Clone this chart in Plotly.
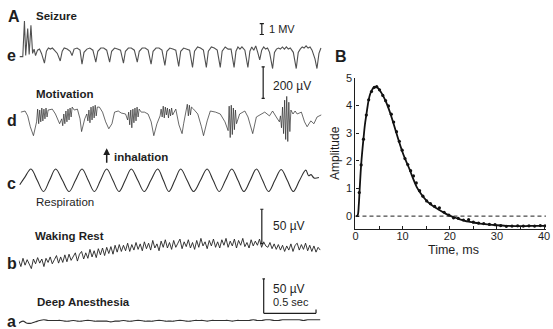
import plotly.graph_objects as go

W, H = 553, 329
FONT = "Liberation Sans, Arial, Helvetica, sans-serif"
INK = "#1e1e1e"

# ---------------- DATA ----------------
# Panel A — EEG traces (time in seconds)
# e: Seizure, (time s, mV)
seizure_e = [
    (0.009, -0.6), (0.038, -0.6), (0.054, 2.7), (0.066, -0.5), (0.085, 2.0), (0.099, -0.4),
    (0.116, 2.3), (0.132, -0.3), (0.146, 0.1), (0.160, -0.5), (0.179, 0.0), (0.198, 0.1),
    (0.217, -0.3), (0.245, -1.2), (0.264, -0.1), (0.283, 0.2), (0.302, 0.1), (0.321, 0.2),
    (0.340, 0.0), (0.368, -0.3), (0.396, -1.0), (0.415, -0.1), (0.434, 0.2), (0.462, 0.1),
    (0.491, -0.1), (0.509, -0.5), (0.528, 0.1), (0.557, 0.2), (0.585, 0.0), (0.604, -1.3),
    (0.623, -0.2), (0.651, 0.1), (0.679, 0.2), (0.708, 0.0), (0.736, -1.1), (0.755, -0.1),
    (0.783, 0.2), (0.811, 0.2), (0.840, 0.0), (0.868, -1.1), (0.887, -0.1), (0.915, 0.2),
    (0.943, 0.1), (0.972, 0.0), (1.000, -1.2), (1.019, -0.1), (1.047, 0.2), (1.075, 0.2),
    (1.104, 0.0), (1.132, -1.1), (1.151, -0.1), (1.179, 0.2), (1.208, 0.2), (1.236, 0.0),
    (1.264, -1.3), (1.283, -0.1), (1.311, 0.2), (1.340, 0.2), (1.368, 0.0), (1.396, -1.4),
    (1.415, -0.1), (1.443, 0.2), (1.472, 0.1), (1.500, 0.0), (1.528, -1.5), (1.547, -0.1),
    (1.575, 0.2), (1.604, 0.1), (1.632, 0.0), (1.660, -1.6), (1.679, -0.1), (1.708, 0.3),
    (1.736, 0.2), (1.764, 0.0), (1.792, -1.6), (1.811, -0.1), (1.840, 0.3), (1.868, 0.2),
    (1.896, 0.0), (1.925, -1.6), (1.943, -0.1), (1.972, 0.3), (2.000, 0.1), (2.028, 0.1),
    (2.057, -1.6), (2.075, -0.1), (2.094, 0.3), (2.113, 0.1), (2.132, 0.3), (2.160, 0.0),
    (2.189, -1.6), (2.208, -0.1), (2.226, 0.3), (2.245, 0.0), (2.264, 0.4), (2.283, -0.2),
    (2.302, -0.9), (2.321, 0.0), (2.340, 0.3), (2.358, 0.1), (2.377, 0.2), (2.396, -0.2),
    (2.425, -1.7), (2.443, -0.2), (2.462, 0.1), (2.481, 0.2), (2.500, 0.1), (2.519, 0.3),
    (2.538, 0.1), (2.557, 0.3), (2.575, 0.1), (2.594, 0.2), (2.623, -0.2), (2.651, -1.7),
    (2.670, -0.2), (2.689, 0.1), (2.708, 0.3), (2.726, 0.2), (2.745, 0.4), (2.764, 0.2),
    (2.783, 0.3), (2.802, 0.0), (2.830, -0.8), (2.849, -1.7), (2.868, -0.3), (2.887, 0.2),
]

# d: Motivation, (time s, µV)
motivation_d = [
    (0.02, 12), (0.06, 19), (0.085, -12), (0.11, -81), (0.14, -138), (0.17, -50),
    (0.18, 31), (0.19, -62), (0.20, 25), (0.21, -50), (0.22, 38), (0.23, -44), (0.24, 31),
    (0.25, -31), (0.26, 38), (0.27, -19),
    (0.28, 25), (0.32, 31), (0.35, 0), (0.37, -31), (0.39, -62),
    (0.41, -31), (0.42, -75), (0.43, 0), (0.44, -62), (0.45, 19), (0.46, -50), (0.47, 31),
    (0.48, -38), (0.49, 38), (0.50, -19), (0.51, 44),
    (0.53, 25), (0.56, 31), (0.585, -31), (0.60, -112), (0.63, -31), (0.65, 0),
    (0.66, -44), (0.67, 25), (0.68, -56), (0.69, 44), (0.70, -38), (0.71, 50), (0.72, -25),
    (0.73, 56), (0.74, -12), (0.75, 44),
    (0.77, 44), (0.80, 12), (0.83, -50), (0.86, -94), (0.89, -62), (0.915, 12), (0.95, 19),
    (0.98, 6), (1.02, 0),
    (1.04, -38), (1.05, 12), (1.06, -69), (1.07, 25), (1.08, -88), (1.09, 31), (1.10, -56),
    (1.11, 38), (1.12, -44), (1.13, 44), (1.14, -19), (1.15, 31),
    (1.17, 12), (1.20, 12), (1.235, 0), (1.265, -50), (1.29, -138), (1.32, -62), (1.35, -12),
    (1.36, 31), (1.37, -19), (1.38, 50), (1.39, -25), (1.40, 44), (1.41, -6), (1.42, 38),
    (1.43, -25), (1.44, 31), (1.45, -12), (1.46, 38), (1.47, -6),
    (1.50, 31), (1.53, -69), (1.56, -125), (1.575, -62), (1.595, 19),
    (1.61, 62), (1.62, -12), (1.63, 56), (1.64, -6), (1.65, 44),
    (1.67, 31), (1.71, 0), (1.745, -81), (1.765, -138), (1.80, -44), (1.83, 19), (1.88, 12),
    (1.925, 0), (1.97, -50), (2.00, -106),
    (2.01, 50), (2.02, -150), (2.03, 56), (2.04, -131), (2.05, 38), (2.06, -100), (2.07, 25),
    (2.08, -62),
    (2.11, 0), (2.16, 19), (2.19, -19), (2.235, -125), (2.27, -19), (2.32, 0), (2.35, 12),
    (2.395, -12), (2.425, 19), (2.46, -19), (2.49, -50),
    (2.50, -12), (2.51, -88), (2.52, 44), (2.53, -125), (2.54, 88), (2.55, -162), (2.56, 112),
    (2.57, -175), (2.58, 75), (2.59, -112), (2.60, 25),
    (2.62, 0), (2.64, 19), (2.66, 0), (2.70, 12), (2.73, -50), (2.755, -81), (2.79, -44),
    (2.82, -62), (2.85, -19), (2.89, -6),
]

# c: Respiration, (time s, arbitrary units)
respiration_c = [
    (0.009, -0.4), (0.060, 0.3), (0.116, 1.0), (0.176, 0.0), (0.236, -1.0), (0.294, 0.0),
    (0.352, 1.0), (0.417, 0.0), (0.481, -1.0), (0.542, 0.0), (0.604, 1.0), (0.663, 0.0),
    (0.722, -1.0), (0.781, 0.0), (0.840, 1.0), (0.899, 0.0), (0.958, -1.0), (1.017, 0.0),
    (1.075, 1.0), (1.137, 0.0), (1.198, -1.0), (1.262, 0.0), (1.327, 1.0), (1.381, 0.0),
    (1.434, -1.0), (1.491, 0.0), (1.547, 1.0), (1.608, 0.0), (1.670, -1.0), (1.736, 0.0),
    (1.799, 1.0), (1.857, 0.0), (1.915, -1.0), (1.975, 0.0), (2.035, 1.0), (2.094, 0.0),
    (2.151, -1.0), (2.212, 0.0), (2.271, 1.0), (2.329, 0.0), (2.387, -1.0), (2.447, 0.0),
    (2.507, 0.95), (2.565, 0.0), (2.623, -1.0), (2.683, 0.0), (2.742, 0.9), (2.769, 0.4),
    (2.792, 0.5), (2.821, 0.2), (2.868, 0.25),
]
INHALATION_T = 0.840

# b: Waking Rest, µV sampled every 0.02 s
SAMPLE_DT = 0.02
waking_b = [
    -13, -22, -10, -20, -12, -19, -25, -11, -18, -9,
    -17, -11, -22, -10, -16, -8, -18, -12, -6, -17,
    -8, -16, -5, -15, -4, -13, -7, -2, -14, -4,
    0, -11, -2, -10, 3, -8, 1, -9, 4, -5,
    5, -6, 6, -3, 7, -4, 9, -1, 10, 0,
    9, 1, 12, 0, 10, 2, 13, 3, 11, 1,
    14, 4, 12, 2, 16, 5, 11, 1, 15, 6,
    17, 5, 13, 3, 16, 6, 12, 18, 4, 14,
    7, 17, 5, 13, 3, 16, 6, 19, 8, 14,
    4, 16, 8, 18, 6, 14, 5, 17, 9, 19,
    6, 15, 8, 18, 5, 16, 9, 19, 7, 13,
    5, 17, 8, 15, 9, 18, 6, 14, 8, 6,
    13, 4, 11, 3, 10, 2, 9, 0, 8, 2,
    11, 0, 9, 12, 2, 10, 3, 12, 1, 9,
    0, 8, -1, 6, 2,
]

# a: Deep Anesthesia, µV sampled every 0.04 s
SAMPLE_DT_A = 0.04
anesthesia_a = [
    -3, 0, -3, -3, -1, 1, 2, 1, 1, 1,
    1, 0, 0, 1, 0, 0, 1, 1, 0, 0,
    0, 0, -1, 0, 0, 1, 0, 0, 1, 1,
    0, 0, 0, 1, 1, 0, 0, 0, 1, 1,
    0, 0, 1, 1, 1, 0, 1, 1, 1, 1,
    1, 0, 1, 1, 1, 1, 2, 1, 1, 2,
    2, 1, 1, 2, 2, 2, 2, 2, 1, 2,
    2, 2, 2,
]

# calibration bars
CAL_E_MV = 1.0
CAL_D_UV = 200
CAL_B_UV = 50
CAL_A_UV = 50
CAL_T_S = 0.5

# Panel B — amplitude vs time (ms)
fit_t = [0, 0.3, 0.5, 0.7, 0.85, 1.0, 1.2, 1.5, 1.7, 2.0,
         2.3, 2.6, 2.8, 3.1, 3.4, 3.8, 4.2, 4.6, 5.0, 5.5,
         6.0, 6.5, 7.0, 7.5, 8.0, 8.5, 9.0, 9.5, 10.0, 10.5,
         11.0, 11.5, 12.0, 13.0, 14.0, 15.0, 16.0, 17.0, 18.0, 19.0,
         20.0, 21.0, 22.0, 23.0, 24.0, 25.0, 26.0, 28.0, 30.0, 32.0,
         34.0, 36.0, 38.0, 40.0, 40.4]
fit_v = [0, 0.0, 0.05, 0.4, 0.85, 1.3, 1.85, 2.45, 2.8, 3.3,
         3.65, 4.0, 4.2, 4.4, 4.52, 4.63, 4.67, 4.65, 4.58, 4.45,
         4.3, 4.12, 3.9, 3.65, 3.38, 3.1, 2.82, 2.55, 2.3, 2.08,
         1.88, 1.68, 1.45, 1.05, 0.78, 0.57, 0.42, 0.3, 0.2, 0.1,
         0.02, -0.05, -0.11, -0.16, -0.2, -0.23, -0.26, -0.3, -0.33, -0.35,
         -0.36, -0.36, -0.35, -0.35, -0.35]
dot_t = [0.8, 1.2, 1.7, 2.3, 2.8, 3.4, 4.0, 4.5, 5.1, 5.8,
         6.4, 7.0, 7.6, 8.1, 8.7, 9.3, 9.9, 10.5, 11.1, 11.7,
         12.3, 12.9, 13.6, 14.3, 15.1, 15.9, 16.8, 17.8, 18.8, 19.8,
         20.8, 21.8, 22.9, 24.0, 25.0, 26.1, 27.2, 28.4, 29.6, 30.8,
         32.0, 33.2, 34.4, 35.6, 36.8, 38.0, 39.2, 40.2]
dot_v = [0.85, 1.85, 2.78, 3.65, 4.2, 4.5, 4.65, 4.68, 4.56, 4.36,
         4.17, 3.98, 3.68, 3.4, 3.05, 2.7, 2.38, 2.08, 1.86, 1.64,
         1.45, 1.2, 0.92, 0.72, 0.55, 0.45, 0.35, 0.3, 0.14, 0.04,
         -0.06, -0.08, -0.14, -0.13, -0.22, -0.25, -0.27, -0.3, -0.31, -0.34,
         -0.37, -0.36, -0.35, -0.36, -0.35, -0.36, -0.34, -0.35]
x_ticks_B = [0, 5, 10, 15, 20, 25, 30, 35, 40]
x_labels_B = ["0", "", "10", "", "20", "", "30", "", "40"]
y_ticks_B = [0, 1, 2, 3, 4, 5]

# ---------------- LAYOUT HELPERS ----------------
def xp(x):
    return x / W

def yp(y):
    return 1 - y / H

def track_axis(py_zero, px_per_unit, top, bottom):
    return dict(domain=[yp(bottom), yp(top)],
                range=[(py_zero - bottom) / px_per_unit, (py_zero - top) / px_per_unit],
                visible=False, fixedrange=True, anchor="x")

PX_PER_S = 106.0
X0_PX = 16.0
T_MAX = 2.9

fig = go.Figure()

def line(x, y, yaxis, color="#2a2a2a", width=1.0, shape="linear"):
    fig.add_trace(go.Scatter(x=x, y=y, mode="lines", xaxis="x", yaxis=yaxis,
                             line=dict(color=color, width=width, shape=shape),
                             hoverinfo="skip", showlegend=False))

line([p[0] for p in seizure_e], [p[1] for p in seizure_e], "y", color="#505050", width=1.1)
line([p[0] for p in motivation_d], [p[1] for p in motivation_d], "y2", color="#2a2a2a", width=0.7)
line([p[0] for p in respiration_c], [p[1] for p in respiration_c], "y3", color="#303030",
     width=1.1, shape="spline")
line([i * SAMPLE_DT for i in range(len(waking_b))], waking_b, "y4", color="#222", width=0.9)
line([i * SAMPLE_DT_A for i in range(len(anesthesia_a))], anesthesia_a, "y5", color="#303030",
     width=1.1, shape="spline")

# Panel B
fig.add_trace(go.Scatter(x=fit_t, y=fit_v, mode="lines", xaxis="x2", yaxis="y6",
                         line=dict(color="#111", width=1.8, shape="spline"),
                         hoverinfo="skip", showlegend=False))
fig.add_trace(go.Scatter(x=dot_t, y=dot_v, mode="markers", xaxis="x2", yaxis="y6",
                         marker=dict(color="#111", size=3.2),
                         hoverinfo="skip", showlegend=False))

shapes = []

def seg(x0, y0, x1, y1, yref, width=1.2, xref="x", dash=None):
    d = dict(type="line", xref=xref, yref=yref, x0=x0, y0=y0, x1=x1, y1=y1,
             line=dict(color=INK, width=width))
    if dash:
        d["line"]["dash"] = dash
    shapes.append(d)

def ibar(t, v0, v1, yref, cap=0.02):
    seg(t, v0, t, v1, yref)
    seg(t - cap, v0, t + cap, v0, yref)
    seg(t - cap, v1, t + cap, v1, yref)

# calibration bars in each trace's own units
ibar(2.322, 1.45, 1.45 + CAL_E_MV, "y", cap=0.02)
ibar(2.335, 100, 100 + CAL_D_UV, "y2", cap=0.015)
ibar(2.322, 11.4, 11.4 + CAL_B_UV, "y4", cap=0.015)
seg(2.34, 11.4, 2.34, 11.4 + CAL_A_UV, "y5")
seg(2.34 - 0.012, 11.4 + CAL_A_UV, 2.34 + 0.012, 11.4 + CAL_A_UV, "y5")
seg(2.34, 11.4, 2.34 + CAL_T_S, 11.4, "y5")
seg(2.34 + CAL_T_S, 11.4, 2.34 + CAL_T_S, 17.0, "y5")

# zero reference in panel B
seg(0, 0, 40.4, 0, "y6", width=1.0, xref="x2", dash="4px,3px")

ann = []

def text(x, y, s, size=11.5, bold=False, anchor="left", angle=0):
    ann.append(dict(x=xp(x), y=yp(y), xref="paper", yref="paper", text=("<b>%s</b>" % s) if bold else s,
                    showarrow=False, xanchor=anchor, yanchor="middle", textangle=angle,
                    font=dict(family=FONT, size=size, color=INK)))

text(3, 11, "A", size=16, bold=True)
text(31, 10, "Seizure", bold=True)
text(2, 50, "e", size=16, bold=True)
text(267, 23, "1 MV", size=11)
text(271, 81, "200 µV", size=12)
text(31, 90, "Motivation", bold=True)
text(2, 117, "d", size=16, bold=True)
text(110, 154, "inhalation", bold=True)
text(2, 181, "c", size=16, bold=True)
text(31, 200, "Respiration", size=11.5)
text(271, 224, "50 µV", size=12)
text(30, 234, "Waking Rest", bold=True)
text(2, 262, "b", size=16, bold=True)
text(271, 288, "50 µV", size=12)
text(271, 302, "0.5 sec", size=11)
text(32, 302, "Deep Anesthesia", bold=True)
text(2, 321, "a", size=16, bold=True)
text(334, 51, "B", size=16, bold=True)
text(337, 150, "Amplitude", size=12, anchor="center", angle=-90)
text(456, 249, "Time, ms", size=12.5, anchor="center")

ann.append(dict(x=xp(X0_PX + INHALATION_T * PX_PER_S), y=yp(145), xref="paper", yref="paper",
                text="", showarrow=True, ax=0, ay=16, arrowhead=2, arrowsize=0.9,
                arrowwidth=1.5, arrowcolor=INK))

axis_b = dict(showline=True, linecolor=INK, linewidth=1.2, ticks="inside", ticklen=3,
              tickwidth=1, tickcolor=INK, showgrid=False, zeroline=False, fixedrange=True,
              ticklabeloverflow="allow",
              tickfont=dict(family=FONT, size=11, color=INK))

fig.update_layout(
    width=W, height=H, margin=dict(l=0, r=0, t=0, b=0),
    paper_bgcolor="white", plot_bgcolor="rgba(0,0,0,0)",
    showlegend=False,
    xaxis=dict(domain=[xp(X0_PX), xp(X0_PX + T_MAX * PX_PER_S)], range=[0, T_MAX],
               visible=False, fixedrange=True, anchor="y"),
    yaxis=track_axis(45, 11.0, 6, 74),
    yaxis2=track_axis(110, 32.0 / 200, 58, 142),
    yaxis3=track_axis(177.5, 11.5, 158, 196),
    yaxis4=track_axis(250, 0.7, 200, 272),
    yaxis5=track_axis(321, 0.7, 276, 329),
    xaxis2=dict(domain=[xp(357), xp(550)], range=[0, 193 / 4.775], anchor="y6",
                tickvals=x_ticks_B, ticktext=x_labels_B, ticklabelstandoff=-3, **axis_b),
    yaxis6=dict(domain=[yp(227), yp(73)], range=[-0.46, 5], anchor="x2",
                tickvals=y_ticks_B, **axis_b),
    shapes=shapes, annotations=ann,
)

fig.write_html("out.html", config={"displayModeBar": False},
               post_script="document.body.style.margin='0px';document.body.style.padding='0px';")
